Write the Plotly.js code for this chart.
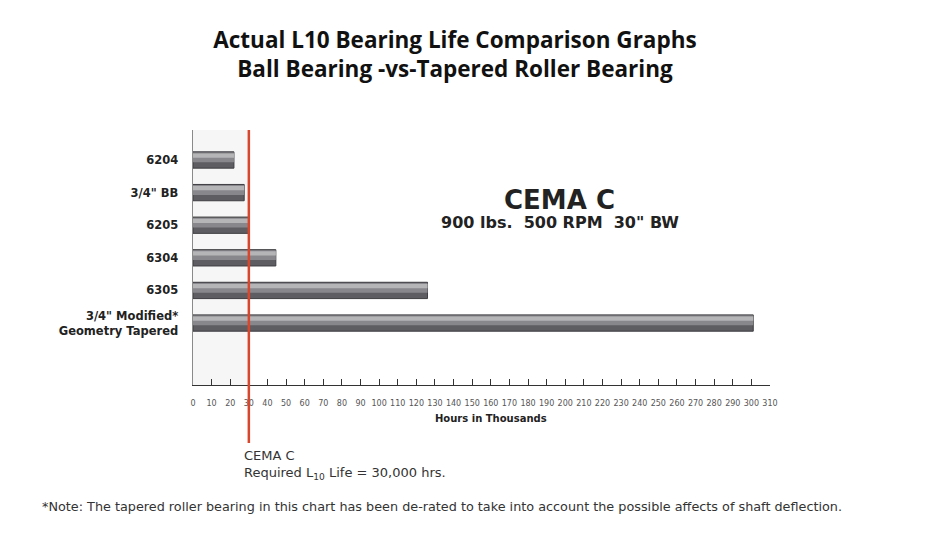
<!DOCTYPE html>
<html>
<head>
<meta charset="utf-8">
<script src="https://cdn.plot.ly/plotly-3.0.1.min.js"></script>
<style>html,body{margin:0;padding:0;background:#fff;}#chart{width:940px;height:538px;}</style>
</head>
<body>
<div id="chart"></div>
<script>
// Data
const categories = ['6204', '3/4" BB', '6205', '6304', '6305', '3/4" Modified*<br>Geometry Tapered'];
const hoursThousands = [22, 27.5, 30, 44.5, 126, 301];
const requiredLife = 30;
const xTickVals = [0,10,20,30,40,50,60,70,80,90,100,110,120,130,140,150,160,170,180,190,200,210,220,230,240,250,260,270,280,290,300,310];

const common = {type: 'bar', orientation: 'h', y: categories, x: hoursThousands, hoverinfo: 'x+y', showlegend: false};
const traces = [
  Object.assign({}, common, {width: 0.5, marker: {color: '#5e5e62', line: {color: '#3e3e42', width: 1}}}),
  Object.assign({}, common, {width: 0.3, offset: -0.23, marker: {color: '#88888c', line: {width: 0}}}),
  Object.assign({}, common, {width: 0.13, offset: -0.2, marker: {color: '#b5b5b8', line: {width: 0}}})
];

const layout = {
  width: 940, height: 538,
  margin: {l: 193, r: 170, t: 130, b: 153},
  paper_bgcolor: '#fff', plot_bgcolor: '#fff',
  barmode: 'overlay',
  title: {
    text: 'Actual L10 Bearing Life Comparison Graphs<br>Ball Bearing -vs-Tapered Roller Bearing',
    font: {family: 'Open Sans', size: 22.5, color: '#111', weight: 'bold'},
    x: 0.484, xanchor: 'center', xref: 'container',
    y: 0.911, yanchor: 'top', yref: 'container'
  },
  xaxis: {
    range: [0, 310], tickmode: 'array', tickvals: xTickVals,
    ticks: 'inside', ticklen: 6, tickcolor: '#333', tickwidth: 1,
    showline: true, linecolor: '#333', linewidth: 1,
    showgrid: false, zeroline: false,
    tickfont: {family: 'DejaVu Sans', size: 8, color: '#555'},
    ticklabelstandoff: 10
  },
  yaxis: {
    type: 'category', categoryorder: 'array', categoryarray: categories,
    range: [6.9, -0.92],
    showline: true, linecolor: '#8a8a8a', linewidth: 1.5,
    showgrid: false, zeroline: false, ticks: '',
    tickfont: {family: 'DejaVu Sans', size: 11.5, color: '#222', weight: 'bold'},
    ticklabelstandoff: 11
  },
  shapes: [
    {type: 'rect', xref: 'x', yref: 'paper', x0: 0, x1: requiredLife, y0: 0, y1: 1,
     fillcolor: '#f6f6f6', line: {width: 0}, layer: 'below'},
    {type: 'line', xref: 'x', yref: 'paper', x0: requiredLife, x1: requiredLife, y0: 1, y1: -0.227,
     line: {color: '#d8472c', width: 2.5}, layer: 'above'}
  ],
  annotations: [
    {text: '<b>Hours in Thousands</b>', xref: 'paper', yref: 'paper', x: 0.516, y: -0.13,
     xanchor: 'center', yanchor: 'middle', showarrow: false,
     font: {family: 'DejaVu Sans', size: 10, color: '#222'}},
    {text: '<b>CEMA C</b>', xref: 'paper', yref: 'paper', x: 0.636, y: 0.725,
     xanchor: 'center', yanchor: 'middle', showarrow: false,
     font: {family: 'DejaVu Sans', size: 26, color: '#222'}},
    {text: '<b>900 lbs.  500 RPM  30" BW</b>', xref: 'paper', yref: 'paper', x: 0.636, y: 0.637,
     xanchor: 'center', yanchor: 'middle', showarrow: false,
     font: {family: 'DejaVu Sans', size: 16, color: '#222'}},
    {text: 'CEMA C<br>Required L<sub>10</sub> Life = 30,000 hrs.', xref: 'paper', yref: 'paper',
     x: 0.085, y: -0.24, xanchor: 'left', yanchor: 'top', align: 'left', showarrow: false,
     font: {family: 'DejaVu Sans', size: 13, color: '#333'}},
    {text: '*Note: The tapered roller bearing in this chart has been de-rated to take into account the possible affects of shaft deflection.',
     xref: 'paper', yref: 'paper', x: -0.265, y: -0.478, xanchor: 'left', yanchor: 'middle', showarrow: false,
     font: {family: 'DejaVu Sans', size: 12.8, color: '#333'}}
  ]
};

Plotly.newPlot('chart', traces, layout, {displayModeBar: false, staticPlot: true});
</script>
</body>
</html>
